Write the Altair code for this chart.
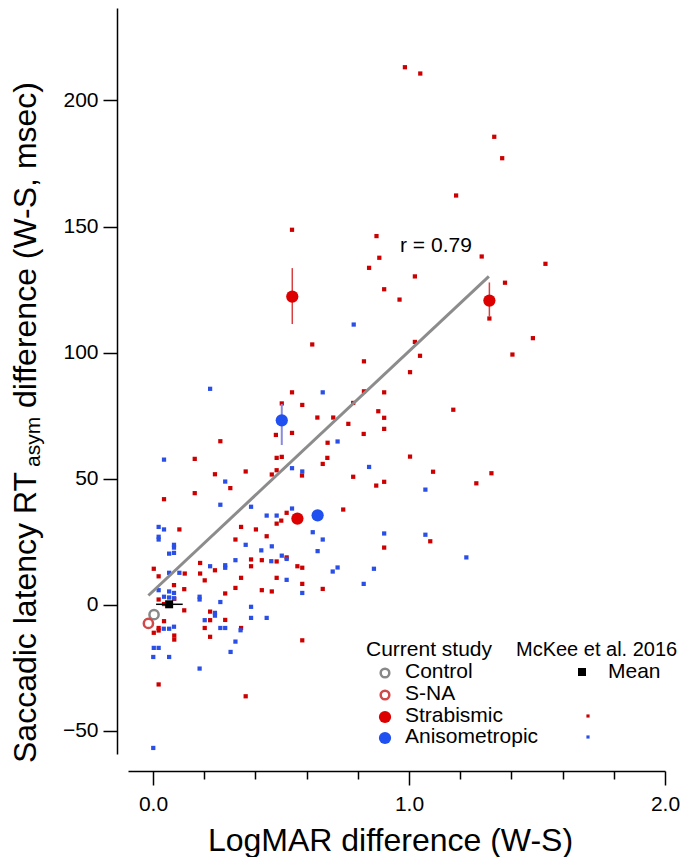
import altair as alt
import pandas as pd

FONT = "Liberation Sans"

# McKee et al. 2016 individual points
red_x = [0.503, 0.583, 0.642, 0.704, 0.782, 0.880, 0.763, 0.543, 0.480, 0.823, 0.263, 0.682, 0.681, 0.663,
         0.483, 0.503, 0.163, 0.483, 0.464, 0.362, 0.242, 0.582, 0.782, 0.872, 0.302, 0.163, 0.043, 0.743,
         0.522, 0.501, 0.483, 0.344, 0.402, 0.103, 0.444, 0.322, 0.522, 0.483, 0.425, 0.383, 0.383, 0.564,
         0.583, 0.184, 0.242, 0.184, 0.124, 0.003, 0.022, 0.202, 0.344, 0.483, 0.583, 0.082, 0.122, 0.322,
         0.425, 0.464, 0.663, 0.282, 0.022, 0.043, 0.083, 0.122, 0.223, 0.223, 0.282, 0.043, 0.022, 0.003,
         0.022, 0.202, 0.344, 0.223, 0.083, 0.083, 0.583,
         0.022, 0.362,
         0.622, 0.824, 0.543, 0.824, 0.903,
         1.314, 1.484, 1.404, 1.023, 1.043, 1.004, 0.903, 0.903, 1.173, 1.004, 1.094, 1.322, 1.263, 0.903,
         1.083, 0.903, 0.963,
         0.984, 1.044, 1.333, 1.364, 1.184, 0.543, 0.873, 0.884, 0.844, 1.023, 1.284, 1.533, 1.375, 0.903]
red_y = [79.8, 79.2, 74.2, 74.2, 80.0, 76.7, 71.7, 68.1, 67.3, 67.7, 64.8, 64.2, 58.2, 55.8,
         58.2, 58.6, 57.8, 53.3, 51.6, 52.8, 51.7, 51.2, 50.7, 47.2, 46.2, 44.2, 41.8, 37.7,
         36.4, 33.3, 32.1, 30.8, 29.8, 29.8, 27.1, 25.8, 18.7, 17.1, 17.6, 17.9, 15.2, 15.2,
         14.6, 16.5, 13.6, 12.3, 12.3, 14.2, 11.2, 9.6, 10.6, 10.6, 8.2, 7.7, 6.1, 6.6,
         5.7, 5.2, 6.2, 4.4, 2.0, 0.2, 2.3, -2.3, -2.8, -6.2, -6.1, -6.6, -9.3, -11.2,
         -10.3, -9.3, -9.3, -12.8, -12.3, -13.9, -14.2,
         -31.7, -36.4,
         103.2, 96.5, 84.2, 84.6, 84.2,
         113.5, 105.7, 99.2, 104.2, 98.7, 92.2, 74.1, 69.7, 77.3, 58.7, 52.7, 52.1, 48.1, 48.7,
         25.1, 22.6, 121.0,
         213.2, 210.7, 185.6, 177.1, 162.3, 148.7, 146.2, 137.6, 133.6, 130.2, 138.1, 135.2, 127.7, 125.1]

blue_x = [0.721, 0.844, 0.543, 0.583, 0.282, 0.043, 0.263, 0.383, 0.543, 0.444, 0.483, 0.624, 0.663, 0.022,
          0.043, 0.022, 0.022, 0.082, 0.082, 0.362, 0.464, 0.423, 0.063, 0.082, 0.643, 0.503, 0.322, 0.462,
          0.522, 0.282, 0.282, 0.223, 0.702, 0.721, 0.863, 0.063, 0.103, 0.522, 0.823, 0.583, 0.022, 0.063,
          0.082, 0.043, 0.063, 0.082, 0.182, 0.182, 0.263, 0.383, 0.242, 0.242, 0.383, 0.444, 0.202, 0.263,
          0.282, 0.042, 0.063, 0.082, 0.322, 0.342, 0.003, 0.022,
          0.001, 0.063, 0.303, 0.182, 0.001,
          0.223, 0.784, 0.663,
          1.064, 0.903, 1.064, 1.224]
blue_y = [64.7, 54.6, 54.1, 52.8, 48.8, 57.5, 39.6, 38.8, 38.1, 35.3, 35.3, 28.7, 25.8, 30.8,
          29.8, 26.9, 25.8, 23.7, 22.6, 23.7, 23.1, 21.5, 20.2, 20.5, 21.2, 19.4, 17.6, 17.2,
          18.1, 15.6, 14.6, 15.2, 13.1, 14.7, 14.2, 12.6, 12.6, 9.8, 8.2, 4.6, 5.7, 5.2,
          4.6, 3.1, 2.8, 2.5, 3.1, 2.0, 1.0, -0.9, -3.3, -4.4, -5.3, -5.3, -6.2, -9.3,
          -9.3, -9.6, -9.6, -8.8, -14.7, -10.2, -17.2, -17.2,
          -20.8, -20.8, -18.8, -25.4, -56.9,
          85.6, 111.1, 84.2,
          45.6, 28.2, 27.7, 18.7]

# Current study group values
strab_x = [0.544, 1.314, 0.564]
strab_y = [122.2, 120.6, 34.1]
strab_err_x = [0.544, 1.314]
strab_lo = [111.3, 114.3]
strab_hi = [133.5, 127.8]

aniso_x = [0.503, 0.643]
aniso_y = [73.1, 35.4]
aniso_err_x = [0.503]
aniso_lo = [63.3]
aniso_hi = [79.6]

control_x = [0.004]
control_y = [-4.0]
sna_x = [-0.018]
sna_y = [-7.5]

mean_x = [0.063]
mean_y = [0.1]
mean_lo = [0.012]
mean_hi = [0.116]

fit_x = [-0.018, 1.312]
fit_y = [3.6, 130.2]

r_label_x = [0.965]
r_label_y = [139.7]

x_ticks = [round(i * 0.2, 1) for i in range(11)]
y_ticks = [-50, 0, 50, 100, 150, 200]

XDOM = [-0.0977, 2.0]
YDOM = [-59.3, 236.7]

RED = "#cc0000"
BIGRED = "#dd0000"
BLUE = "#2a4fe6"
BIGBLUE = "#2150f0"


def X(field="x", axis=None):
    if axis is None:
        return alt.X(f"{field}:Q", scale=alt.Scale(domain=XDOM, nice=False, zero=False))
    return alt.X(f"{field}:Q", scale=alt.Scale(domain=XDOM, nice=False, zero=False), axis=axis)


def Y(field="y", axis=None):
    if axis is None:
        return alt.Y(f"{field}:Q", scale=alt.Scale(domain=YDOM, nice=False, zero=False))
    return alt.Y(f"{field}:Q", scale=alt.Scale(domain=YDOM, nice=False, zero=False), axis=axis)


x_axis = alt.Axis(
    values=x_ticks,
    offset=17,
    tickSize={"condition": {"test": "abs(datum.value - round(datum.value)) < 0.001", "value": 14}, "value": 8},
    labelExpr="abs(datum.value - round(datum.value)) < 0.001 ? format(datum.value, '.1f') : ''",
    labelFontSize=21,
    labelPadding=8,
    labelOverlap=False,
    labelFlush=False,
    grid=False,
    title="LogMAR difference (W-S)",
    titleFontSize=32,
    titleFontWeight="normal",
    titleX=262,
    titleY=79,
    titleBaseline="alphabetic",
    titleAlign="center",
)
y_axis = alt.Axis(
    values=y_ticks,
    offset=11,
    tickSize=14,
    labelFontSize=21,
    labelPadding=5,
    labelFlush=False,
    labelOverlap=False,
    grid=False,
    title=None,
)

red_df = pd.DataFrame({"x": red_x, "y": red_y})
blue_df = pd.DataFrame({"x": blue_x, "y": blue_y})

red_pts = alt.Chart(red_df).mark_square(size=18, color=RED, opacity=1).encode(
    x=X(axis=x_axis), y=Y(axis=y_axis))
blue_pts = alt.Chart(blue_df).mark_square(size=18, color=BLUE, opacity=1).encode(x=X(), y=Y())

fit = alt.Chart(pd.DataFrame({"x": fit_x, "y": fit_y})).mark_line(
    color="#8c8c8c", strokeWidth=3).encode(x=X(), y=Y())

strab_err = alt.Chart(pd.DataFrame({"x": strab_err_x, "lo": strab_lo, "hi": strab_hi})).mark_rule(
    color="#d84040", strokeWidth=1.5).encode(x=X(), y=Y("lo"), y2="hi:Q")
aniso_err = alt.Chart(pd.DataFrame({"x": aniso_err_x, "lo": aniso_lo, "hi": aniso_hi})).mark_rule(
    color="#8a8ae0", strokeWidth=2).encode(x=X(), y=Y("lo"), y2="hi:Q")
mean_err = alt.Chart(pd.DataFrame({"lo": mean_lo, "hi": mean_hi, "y": mean_y})).mark_rule(
    color="black", strokeWidth=1.5).encode(x=X("lo"), x2="hi:Q", y=Y())

strab_pts = alt.Chart(pd.DataFrame({"x": strab_x, "y": strab_y})).mark_circle(
    size=150, color=BIGRED, opacity=1).encode(x=X(), y=Y())
aniso_pts = alt.Chart(pd.DataFrame({"x": aniso_x, "y": aniso_y})).mark_circle(
    size=150, color=BIGBLUE, opacity=1).encode(x=X(), y=Y())
control_pts = alt.Chart(pd.DataFrame({"x": control_x, "y": control_y})).mark_point(
    shape="circle", size=85, filled=False, stroke="#888888", strokeWidth=2.5, opacity=1).encode(x=X(), y=Y())
sna_pts = alt.Chart(pd.DataFrame({"x": sna_x, "y": sna_y})).mark_point(
    shape="circle", size=85, filled=False, stroke="#d04848", strokeWidth=2.5, opacity=1).encode(x=X(), y=Y())
mean_pts = alt.Chart(pd.DataFrame({"x": mean_x, "y": mean_y})).mark_square(
    size=64, color="black", opacity=1).encode(x=X(), y=Y())

r_text = alt.Chart(pd.DataFrame({"x": r_label_x, "y": r_label_y})).mark_text(
    text="r = 0.79", align="left", baseline="alphabetic", fontSize=21, font=FONT, color="black"
).encode(x=X(), y=Y())

one = pd.DataFrame({"a": [0]})


def txt(s, x, y, size=21, angle=None):
    kw = dict(text=s, align="left", baseline="alphabetic", fontSize=size, font=FONT, color="black")
    if angle is not None:
        kw["angle"] = angle
    return alt.Chart(one).mark_text(**kw).encode(x=alt.value(x), y=alt.value(y))


def mk(x, y, shape, size, fill=None, stroke=None, sw=None):
    kw = dict(shape=shape, size=size, opacity=1)
    if fill is not None:
        kw["filled"] = True
        kw["color"] = fill
    else:
        kw["filled"] = False
        kw["stroke"] = stroke
        kw["strokeWidth"] = sw
    return alt.Chart(one).mark_point(**kw).encode(x=alt.value(x), y=alt.value(y))


# y-axis title with subscript
ytitle = [
    txt("Saccadic latency RT", -92, 755, size=32, angle=270),
    txt("asym", -88, 459, size=21, angle=270),
    txt("difference (W-S, msec)", -92, 400, size=32, angle=270),
]

legend = [
    txt("Current study", 238, 648),
    txt("McKee et al. 2016", 388, 648, size=20),
    mk(257, 665, "circle", 75, stroke="#888888", sw=2.5),
    mk(257, 687, "circle", 75, stroke="#d04848", sw=2.5),
    mk(257, 709, "circle", 150, fill=BIGRED),
    mk(257, 730, "circle", 150, fill=BIGBLUE),
    txt("Control", 277, 670),
    txt("S-NA", 277, 692),
    txt("Strabismic", 277, 714),
    txt("Anisometropic", 277, 735),
    mk(454, 664, "square", 64, fill="black"),
    txt("Mean", 480, 670),
    mk(460, 708, "square", 10, fill=RED),
    mk(460, 729, "square", 10, fill=BLUE),
]

chart = alt.layer(
    red_pts, blue_pts, fit, strab_err, aniso_err, mean_err,
    strab_pts, aniso_pts, control_pts, sna_pts, mean_pts, r_text,
    *ytitle, *legend,
).properties(
    width=537, height=746,
    padding={"left": 120, "top": 0, "right": 23, "bottom": 103},
    autosize=alt.AutoSizeParams(type="none"),
).configure_view(stroke=None).configure_axis(
    domainColor="black", tickColor="black", labelColor="black", titleColor="black",
    domainWidth=1.5, tickWidth=1.5, labelFont=FONT, titleFont=FONT,
)

chart.save("out.html", embed_options={"renderer": "svg", "actions": False})
